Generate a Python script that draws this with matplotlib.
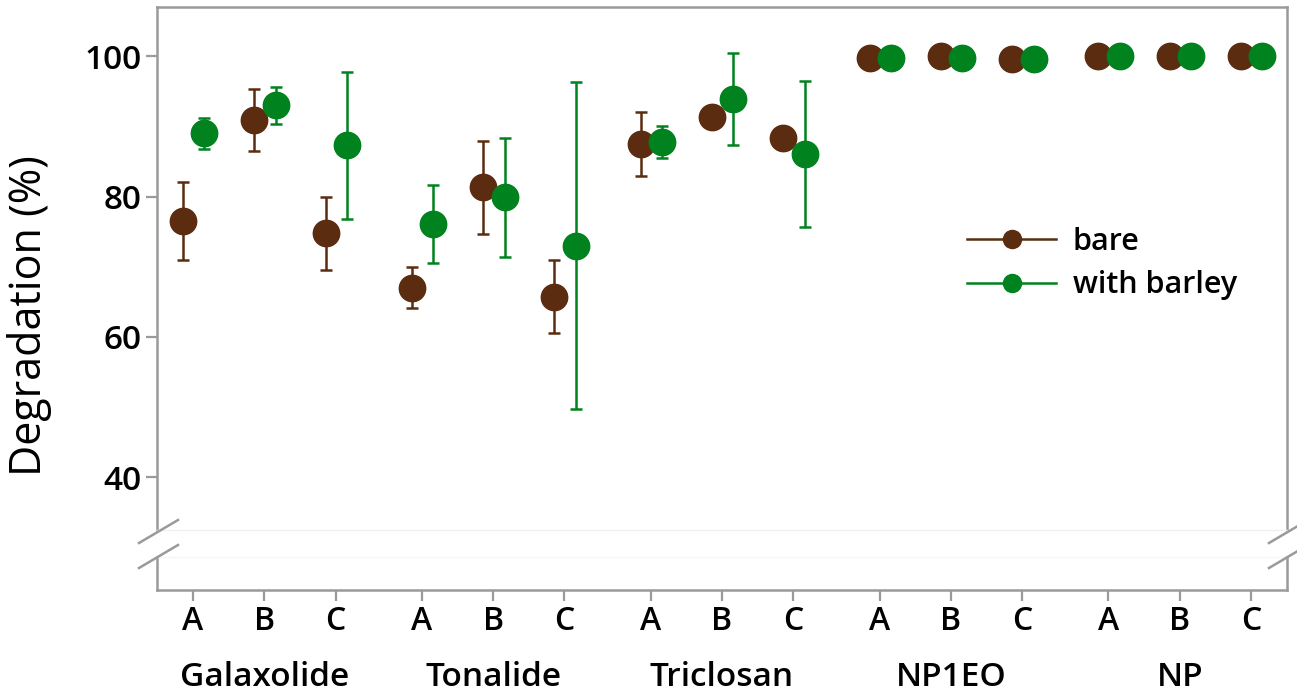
import numpy as np
import matplotlib.pyplot as plt
from matplotlib.lines import Line2D

plt.rcParams['font.family'] = ['Open Sans', 'DejaVu Sans']
plt.rcParams['font.weight'] = 'semibold'

# data
compounds = ['Galaxolide', 'Tonalide', 'Triclosan', 'NP1EO', 'NP']
sites = ['A', 'B', 'C']
bare_mean = [76.5, 90.9, 74.8, 67.0, 81.3, 65.7, 87.5, 91.3, 88.3, 99.7, 100.0, 99.6, 100.0, 100.0, 100.0]
bare_err = [5.6, 4.4, 5.2, 2.9, 6.6, 5.2, 4.6, 1.0, 1.0, 0.3, 0.3, 0.3, 0.2, 0.2, 0.2]
barley_mean = [89.0, 93.0, 87.3, 76.1, 79.9, 73.0, 87.8, 93.9, 86.1, 99.7, 99.7, 99.6, 100.0, 100.0, 100.0]
barley_err = [2.2, 2.6, 10.5, 5.5, 8.5, 23.3, 2.3, 6.5, 10.4, 0.3, 0.3, 0.3, 0.2, 0.2, 0.2]

brown = '#5B2C0F'
green = '#00821E'
spine_col = '#9a9a9a'

# x layout: 3 sites per compound, wider gap between compounds
group_step = 3.21
x = np.array([g * group_step + i for g in range(len(compounds)) for i in range(len(sites))])
xlabels = sites * len(compounds)

fig = plt.figure(figsize=(12.97, 6.94), dpi=100)
W, H = 1297, 694
left, right = 157 / W, 1287 / W
ax = fig.add_axes([left, 1 - 530 / H, right - left, (530 - 7) / H])
axb = fig.add_axes([left, 1 - 590 / H, right - left, (590 - 557) / H], sharex=ax)

ax.errorbar(x - 0.14, bare_mean, yerr=bare_err, fmt='o', color=brown, ms=19,
            elinewidth=1.8, capsize=4.5, capthick=1.8, zorder=3)
ax.errorbar(x + 0.16, barley_mean, yerr=barley_err, fmt='o', color=green, ms=19,
            elinewidth=1.8, capsize=4.5, capthick=1.8, zorder=4)

ax.set_ylim(32.5, 107)
ax.set_xlim(-0.505, x[-1] + 0.505)
ax.set_yticks([40, 60, 80, 100])
ax.tick_params(axis='y', length=8, width=1.6, color=spine_col, labelsize=24, pad=3)
ax.tick_params(axis='x', bottom=False, labelbottom=False)
for s in ['left', 'right', 'top']:
    ax.spines[s].set_color(spine_col)
    ax.spines[s].set_linewidth(1.8)
ax.spines['bottom'].set_color('#f0f0f0')
ax.spines['bottom'].set_linewidth(1)
ax.set_ylabel('Degradation (%)', fontsize=31)
ax.yaxis.set_label_coords(-0.093, 0.41)

axb.set_yticks([])
axb.set_xticks(x)
axb.set_xticklabels(xlabels)
axb.tick_params(axis='x', length=8, width=1.6, color=spine_col, labelsize=23, pad=3)
for s in ['left', 'right', 'bottom']:
    axb.spines[s].set_color(spine_col)
    axb.spines[s].set_linewidth(1.8)
axb.spines['top'].set_color('#f6f6f6')
axb.spines['top'].set_linewidth(1)

for g, name in enumerate(compounds):
    axb.annotate(name, xy=(g * group_step + 1, 0), xycoords=('data', 'axes fraction'),
                 xytext=(0, -63), textcoords='offset points', ha='center', va='center',
                 fontsize=24)

# axis-break slashes on both sides
for xc in (157, 1287):
    for y0 in (531, 556):
        fig.add_artist(Line2D([(xc - 18) / W, (xc + 21) / W], [1 - (y0 + 12) / H, 1 - (y0 - 11) / H],
                              color=spine_col, lw=1.8))

handles = [Line2D([], [], color=brown, marker='o', ms=13, lw=1.8),
           Line2D([], [], color=green, marker='o', ms=13, lw=1.8)]
ax.legend(handles, ['bare', 'with barley'], loc='upper left', bbox_to_anchor=(0.717, 0.58),
          frameon=False, fontsize=22, handlelength=2.9, handletextpad=0.55, labelspacing=0.45,
          borderpad=0, borderaxespad=0)

fig.savefig('out.png', dpi=100)
